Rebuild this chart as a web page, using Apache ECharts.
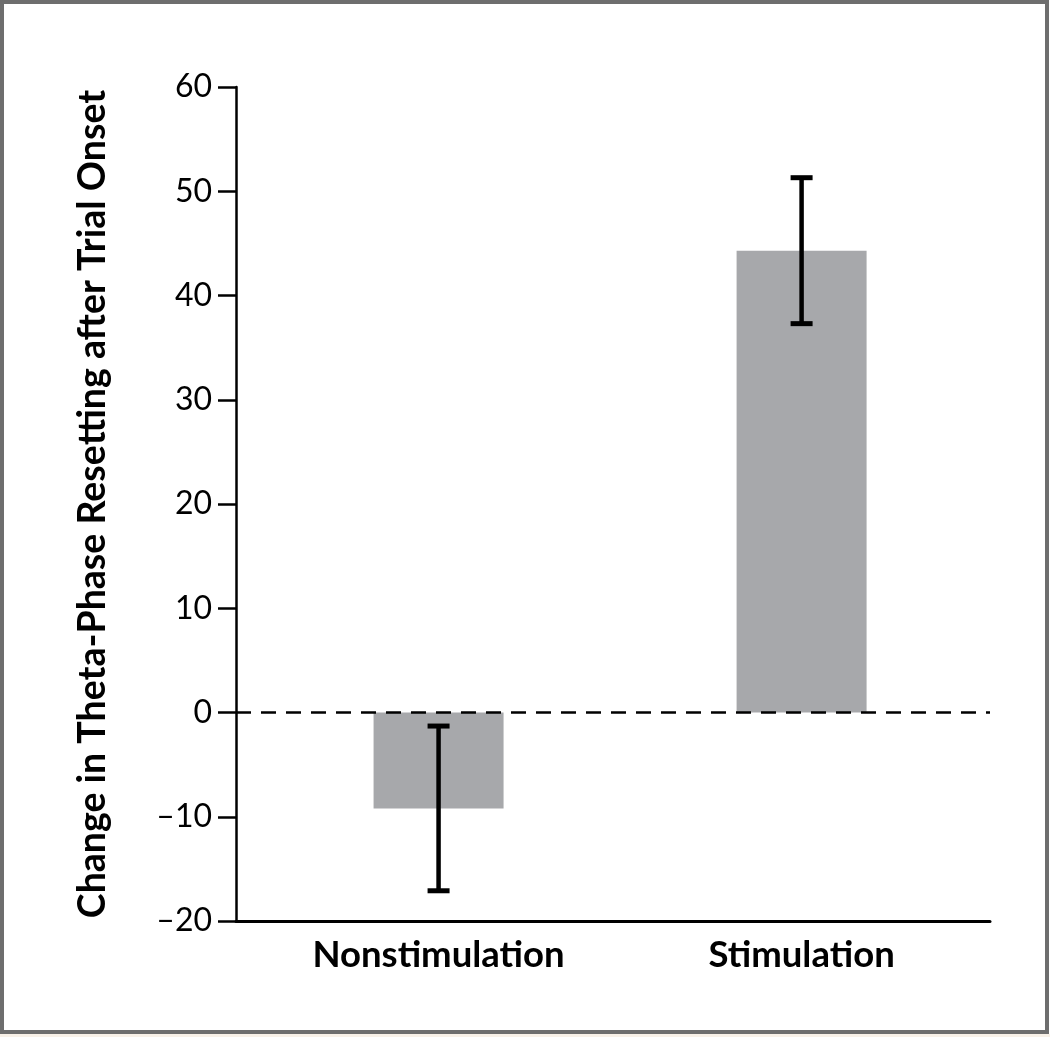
<!DOCTYPE html>
<html>
<head>
<meta charset="utf-8">
<script src="https://cdn.jsdelivr.net/npm/echarts@6/dist/echarts.min.js"></script>
<style>
html,body{margin:0;padding:0;background:#fff;}
#chart{width:1050px;height:1037px;}
</style>
</head>
<body>
<div id="chart"></div>
<script>
// Data
const categories = ['Nonstimulation', 'Stimulation'];
const positions = [1, 2];
const meanValues = [-9.2, 44.3];
const errLow = [-17.1, 37.3];
const errHigh = [-1.3, 51.3];
const yTickMin = -20, yTickMax = 60, yTickStep = 10;
const yAxisTitle = 'Change in Theta-Phase Resetting after Trial Onset';

const FONT = 'Lato, "Open Sans", sans-serif';

const chart = echarts.init(document.getElementById('chart'), null, {renderer: 'canvas'});

const barData = positions.map((p, i) => [p, meanValues[i]]);
const errData = positions.map((p, i) => [p, errLow[i], errHigh[i]]);

const option = {
  animation: false,
  backgroundColor: '#ffffff',
  graphic: [
    {type: 'rect', shape: {x: 2, y: 2, width: 1045, height: 1030},
     style: {fill: 'none', stroke: '#6e6e6e', lineWidth: 4}, z: 100},
    {type: 'rect', shape: {x: 0, y: 1034, width: 1050, height: 3},
     style: {fill: '#f8f1e8'}, z: 100}
  ],
  grid: {left: 236, right: 60, top: 87, bottom: 116, containLabel: false},
  xAxis: {
    type: 'value',
    min: 0.442,
    max: 2.519,
    axisLine: {show: true, onZero: false, lineStyle: {color: '#000', width: 3}},
    axisTick: {show: false},
    splitLine: {show: false},
    axisLabel: {
      customValues: positions,
      formatter: v => categories[positions.indexOf(Math.round(v))] || '',
      fontFamily: FONT, fontSize: 36.5, fontWeight: 'bold', color: '#000', margin: 16
    }
  },
  yAxis: {
    type: 'value',
    min: yTickMin, max: yTickMax, interval: yTickStep,
    name: yAxisTitle,
    nameLocation: 'middle',
    nameGap: 124,
    nameTextStyle: {fontFamily: FONT, fontSize: 37.5, fontWeight: 'bold', color: '#000'},
    axisLine: {show: true, onZero: false, lineStyle: {color: '#000', width: 2.5}},
    axisTick: {show: true, inside: false, length: 18, lineStyle: {color: '#000', width: 2.5}},
    splitLine: {show: false},
    axisLabel: {
      fontFamily: FONT, fontSize: 32, color: '#000', margin: 24,
      formatter: v => String(v).replace('-', '\u2013')
    }
  },
  series: [
    {
      type: 'bar',
      data: barData,
      barWidth: 130,
      itemStyle: {color: '#a7a8ab'},
      markLine: {
        silent: true,
        symbol: ['none', 'none'],
        label: {show: false},
        lineStyle: {color: '#000', width: 2.6, type: [15, 10]},
        data: [{yAxis: 0}],
        z: 5
      }
    },
    {
      type: 'custom',
      data: errData,
      z: 10,
      renderItem: function (params, api) {
        const x = api.value(0);
        const lo = api.coord([x, api.value(1)]);
        const hi = api.coord([x, api.value(2)]);
        const cap = 11;
        const st = {stroke: '#000', lineWidth: 4.5};
        const capSt = {stroke: '#000', lineWidth: 5};
        return {
          type: 'group',
          children: [
            {type: 'line', shape: {x1: lo[0], y1: lo[1], x2: hi[0], y2: hi[1]}, style: st},
            {type: 'line', shape: {x1: lo[0] - cap, y1: lo[1], x2: lo[0] + cap, y2: lo[1]}, style: capSt},
            {type: 'line', shape: {x1: hi[0] - cap, y1: hi[1], x2: hi[0] + cap, y2: hi[1]}, style: capSt}
          ]
        };
      }
    }
  ]
};
chart.setOption(option);
</script>
</body>
</html>
